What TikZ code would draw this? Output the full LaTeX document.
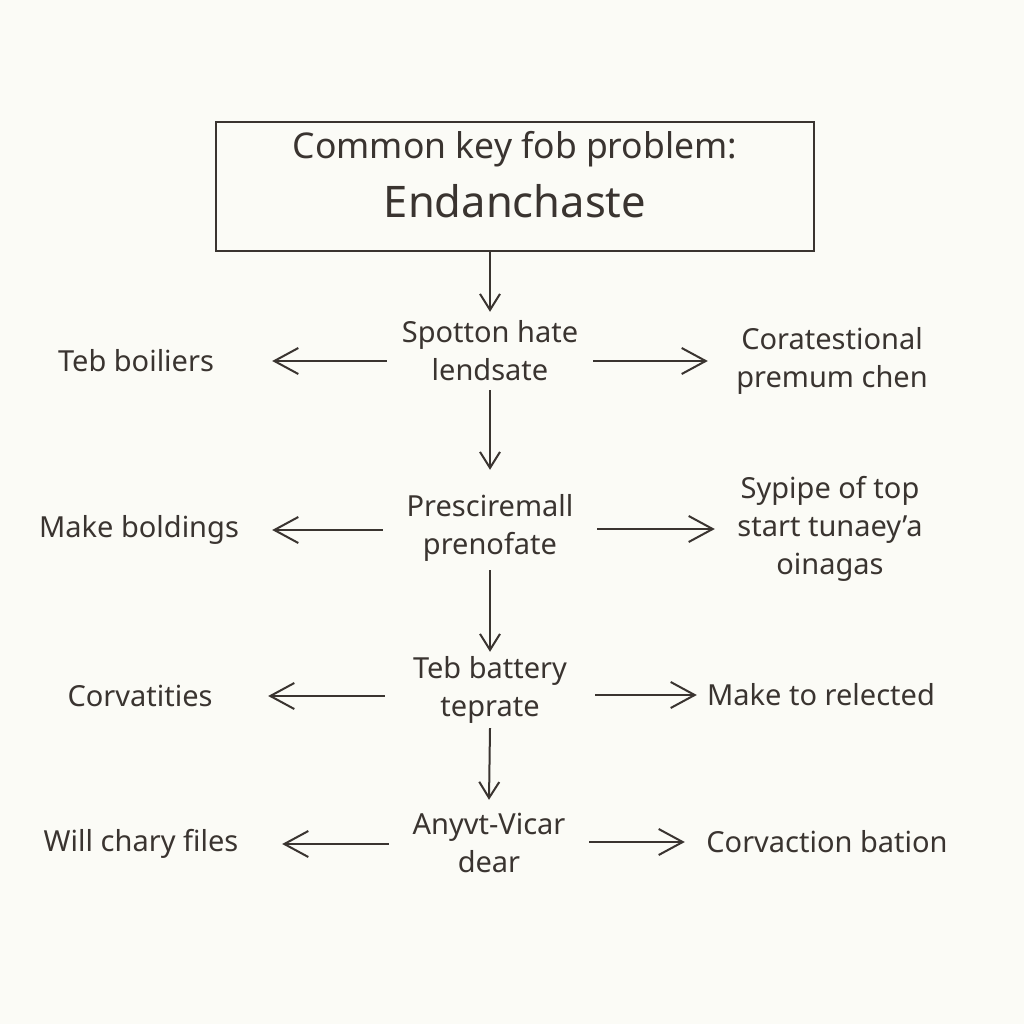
\documentclass[tikz,border=0pt]{standalone}
\usepackage{fontspec}
\setmainfont{Noto Sans}
\usetikzlibrary{arrows.meta}
\definecolor{ink}{HTML}{3A3430}
\definecolor{paper}{HTML}{FBFBF6}
\begin{document}
\begin{tikzpicture}[x=1pt,y=-1pt,
  lbl/.style={text=ink, align=center, font=\fontsize{29}{38}\selectfont, inner sep=0pt},
  harr/.style={draw=ink, line width=2pt, -{Straight Barb[length=24pt,width=26pt,line width=2pt]}},
  varr/.style={draw=ink, line width=2pt, -{Straight Barb[length=16pt,width=20pt,line width=2pt]}},
  titlebox/.style={draw=ink, line width=2pt, text=ink, align=center, inner sep=0pt}
]
\fill[paper] (0,0) rectangle (1024,1024);
\useasboundingbox (0,0) rectangle (1024,1024);

% title
\node[titlebox, minimum width=598pt, minimum height=129pt, text depth=24pt] (title) at (515,186.5)
  {\fontsize{35.5}{40}\selectfont Common key fob problem:\\[17pt]\fontsize{43.5}{48}\selectfont Endanchaste};

% centre column
\node[lbl, minimum width=206pt, minimum height=78pt]  (c1) at (490,351) {Spotton hate\\lendsate};
\node[lbl, minimum width=214pt, minimum height=116pt] (c2) at (490,528) {Presciremall\\prenofate};
\node[lbl, minimum width=210pt, minimum height=76pt]  (c3) at (490,690) {Teb battery\\teprate};
\node[lbl, minimum width=200pt, minimum height=86pt]  (c4) at (489,843) {Anyvt-Vicar\\dear};

% left column
\node[lbl, minimum width=272pt] (l1) at (136,361) {Teb boiliers};
\node[lbl, minimum width=266pt] (l2) at (139,530) {Make boldings};
\node[lbl, minimum width=256pt] (l3) at (140,696) {Corvatities};
\node[lbl, minimum width=282pt] (l4) at (141,844) {Will chary files};

% right column
\node[lbl, minimum width=248pt] (r1) at (832,361) {Coratestional\\premum chen};
\node[lbl, minimum width=230pt] (r2) at (830,529) {Sypipe of top\\start tunaey’a\\oinagas};
\node[lbl, minimum width=248pt] (r3) at (821,695) {Make to relected};
\node[lbl, minimum width=284pt] (r4) at (827,842) {Corvaction bation};

% vertical arrows
\draw[varr] (title.south -| c1) -- (c1.north);
\draw[varr] (c1.south) -- (c2.north);
\draw[varr, shorten <=-16pt] (c2.south) -- (c3.north);
\draw[varr] (c3.south) -- (c4.north);

% horizontal arrows
\draw[harr] (c1.west |- l1) -- (l1.east);
\draw[harr] (c1.east |- r1) -- (r1.west);
\draw[harr] (c2.west |- l2) -- (l2.east);
\draw[harr] (c2.east |- r2) -- (r2.west);
\draw[harr] (c3.west |- l3) -- (l3.east);
\draw[harr] (c3.east |- r3) -- (r3.west);
\draw[harr] (c4.west |- l4) -- (l4.east);
\draw[harr] (c4.east |- r4) -- (r4.west);
\end{tikzpicture}
\end{document}
